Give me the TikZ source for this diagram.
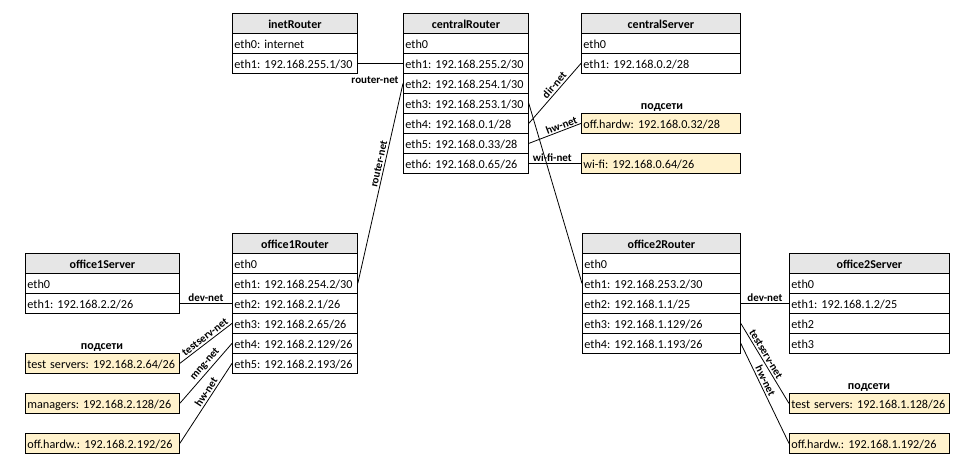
\documentclass[tikz,border=0pt]{standalone}
\usepackage{fontspec}
\setmainfont{Carlito}[Numbers={Lining,Monospaced}]
\frenchspacing
\definecolor{headgray}{HTML}{E6E6E6}
\definecolor{subyellow}{HTML}{FFF2CC}
\tikzset{
 cell/.style={draw=black, line width=0.8pt, anchor=north west, minimum height=20pt, inner xsep=2pt, inner ysep=0pt, text height=11pt, text depth=1pt, align=left, font=\fontsize{12.2}{14}\selectfont},
 headcell/.style={cell, fill=headgray, align=center, font=\fontsize{12}{14}\selectfont\bfseries},
 subnet/.style={cell, fill=subyellow},
 link/.style={line width=0.8pt},
 lbl/.style={font=\fontsize{11}{13}\selectfont\bfseries, inner sep=1.8pt},
 caption/.style={font=\fontsize{12}{14}\selectfont\bfseries, anchor=base, inner sep=0pt}
}
\newcommand\mktable[6]{%
 \pgfmathsetmacro\tblw{#4-4}%
 \node[headcell, text width=\tblw pt] (#1-0) at (#2,#3) {#5};
 \foreach \t [count=\i] in {#6} {
   \node[cell, text width=\tblw pt] (#1-\i) at (#2,#3+20*\i) {\mbox{\t}};
 }
}
\begin{document}
\begin{tikzpicture}[x=1pt,y=-1pt]
\useasboundingbox (0,0) rectangle (977,471);
\mktable{ir}{232}{13}{125}{inetRouter}{{eth0: internet},{eth1: 192.168.255.1/30}}
\mktable{cr}{403}{13}{125}{centralRouter}{{eth0},{eth1: 192.168.255.2/30},{eth2: 192.168.254.1/30},{eth3: 192.168.253.1/30},{eth4: 192.168.0.1/28},{eth5: 192.168.0.33/28},{eth6: 192.168.0.65/26}}
\mktable{cs}{581}{13}{159}{centralServer}{{eth0},{eth1: 192.168.0.2/28}}
\mktable{o1r}{232}{233}{125}{office1Router}{{eth0},{eth1: 192.168.254.2/30},{eth2: 192.168.2.1/26},{eth3: 192.168.2.65/26},{eth4: 192.168.2.129/26},{eth5: 192.168.2.193/26}}
\mktable{o1s}{25}{253}{154}{office1Server}{{eth0},{eth1: 192.168.2.2/26}}
\mktable{o2r}{582}{233}{158}{office2Router}{{eth0},{eth1: 192.168.253.2/30},{eth2: 192.168.1.1/25},{eth3: 192.168.1.129/26},{eth4: 192.168.1.193/26}}
\mktable{o2s}{789}{253}{160}{office2Server}{{eth0},{eth1: 192.168.1.2/25},{eth2},{eth3}}

\node[subnet, text width=155pt] (csub1) at (581,113) {\mbox{off.hardw: 192.168.0.32/28}};
\node[subnet, text width=155pt] (csub2) at (581,153) {\mbox{wi-fi: 192.168.0.64/26}};
\node[caption] (ccap) at (662,109) {подсети};

\node[subnet, text width=150pt] (lsub1) at (25,353) {\mbox{test servers: 192.168.2.64/26}};
\node[subnet, text width=150pt] (lsub2) at (25,393) {\mbox{managers: 192.168.2.128/26}};
\node[subnet, text width=150pt] (lsub3) at (25,433) {\mbox{off.hardw.: 192.168.2.192/26}};
\node[caption] (lcap) at (102,349) {подсети};

\node[subnet, text width=156pt] (rsub1) at (789,393) {\mbox{test servers: 192.168.1.128/26}};
\node[subnet, text width=156pt] (rsub2) at (789,433) {\mbox{off.hardw.: 192.168.1.192/26}};
\node[caption] (rcap) at (869,389) {подсети};

\draw[link] (ir-2.east) -- (cr-2.west);
\node[lbl] (lrn1) at (375,80) {router-net};
\draw[link] (o1r-2.east) -- node[lbl, sloped, above, pos=0.59] (lrn2) {router-net} (cr-3.west);
\draw[link] (cr-5.east) -- node[lbl, sloped, above, pos=0.575] (ldir) {dir-net} (cs-2.west);
\draw[link] (cr-6.east) -- node[lbl, sloped, above, pos=0.66, inner sep=0.8pt] (lhw1) {hw-net} (csub1.west);
\draw[link] (cr-7.east) -- node[lbl, above, pos=0.45, inner sep=1pt] (lwifi) {wi-fi-net} (csub2.west);
\draw[link] (cr-4.east) -- (o2r-2.west);
\draw[link] (o1s-2.east) -- node[lbl, above] (ldev1) {dev-net} (o1r-3.west);
\draw[link] (lsub1.east) -- node[lbl, sloped, above, pos=0.55] (lts1) {testserv-net} (o1r-4.west);
\draw[link] (lsub2.east) -- node[lbl, sloped, above, pos=0.58] (lmng) {mng-net} (o1r-5.west);
\draw[link] (lsub3.east) -- node[lbl, sloped, above, pos=0.6] (lhw2) {hw-net} (o1r-6.west);
\draw[link] (o2r-3.east) -- node[lbl, above] (ldev2) {dev-net} (o2s-2.west);
\draw[link] (o2r-4.east) -- node[lbl, sloped, above, pos=0.42] (lts2) {testserv-net} (rsub1.west);
\draw[link] (o2r-5.east) -- node[lbl, sloped, above, pos=0.4] (lhw3) {hw-net} (rsub2.west);
\end{tikzpicture}
\end{document}
